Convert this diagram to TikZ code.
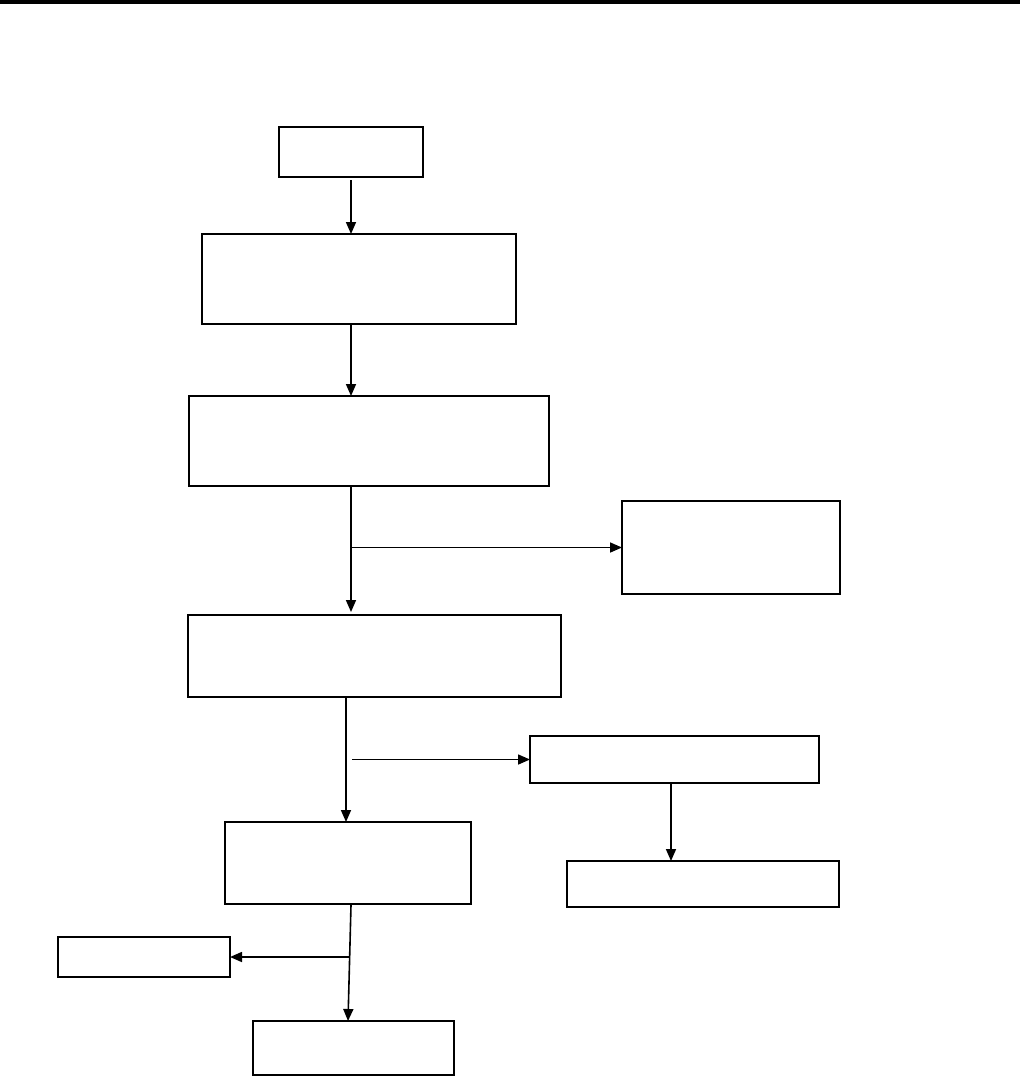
\documentclass[tikz,border=0pt]{standalone}
\usetikzlibrary{arrows.meta}
\begin{document}
\begin{tikzpicture}[x=1pt,y=-1pt,
  box/.style={draw,line width=1.8pt,rectangle,inner sep=0pt,outer sep=0pt},
  arr/.style={line width=1.6pt,-{Triangle[length=12pt,width=10pt]}},
  ln/.style={line width=1.6pt}]
\useasboundingbox (0,0) rectangle (1020,1077);
\fill (0,0) rectangle (1020,3.5);
\node[box,minimum width=144pt,minimum height=50pt] (A) at (351,152) {};
\node[box,minimum width=314pt,minimum height=90pt] (B) at (359,279) {};
\node[box,minimum width=360pt,minimum height=90pt] (C) at (369,441) {};
\node[box,minimum width=218pt,minimum height=93pt] (D) at (731,547.5) {};
\node[box,minimum width=373pt,minimum height=82pt] (E) at (374.5,656) {};
\node[box,minimum width=289pt,minimum height=47pt] (F) at (674.5,759.5) {};
\node[box,minimum width=272pt,minimum height=46pt] (G) at (703,884) {};
\node[box,minimum width=246pt,minimum height=82pt] (H) at (348,863) {};
\node[box,minimum width=172pt,minimum height=40pt] (I) at (144,957) {};
\node[box,minimum width=201pt,minimum height=54pt] (J) at (353.5,1048) {};
% connectors
\coordinate (a1) at (351,180);
\draw[arr] (a1) -- (a1 |- B.north);
\coordinate (b1) at (351,325);
\draw[arr] (b1) -- (b1 |- C.north);
\coordinate (c1) at (351,487);
\coordinate (c2) at (351,547.5);
\draw[arr] (c1) -- (351,612);
\draw[arr] (c2) -- (D.west);
\coordinate (e1) at (346,698);
\draw[arr] (e1) -- (e1 |- H.north);
\coordinate (e2) at (352,759.5);
\draw[arr] (e2) -- (F.west);
\coordinate (f1) at (671,784);
\draw[arr] (f1) -- (f1 |- G.north);
\coordinate (h1) at (351,905);
\coordinate (h2) at (348,1021);
\draw[arr] (h1) -- (h2);
\coordinate (h3) at (349.7,957);
\draw[arr] (h3) -- (I.east);
\end{tikzpicture}
\end{document}
